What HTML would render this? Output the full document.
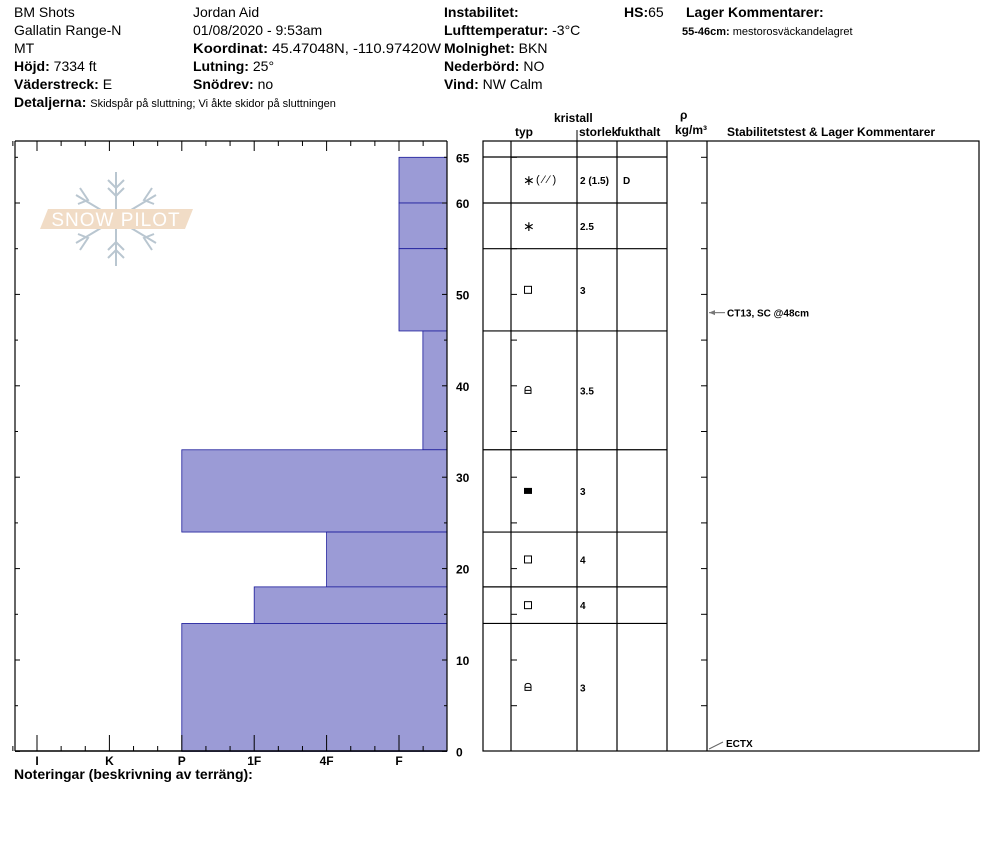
<!DOCTYPE html>
<html><head><meta charset="utf-8">
<style>
html,body{margin:0;padding:0;background:#fff;}
body{width:994px;height:840px;overflow:hidden;position:relative;font-family:"Liberation Sans",Arial,sans-serif;}
svg text{font-family:"Liberation Sans",Arial,sans-serif;}
</style></head>
<body>
<svg id="chart" width="994" height="840" viewBox="0 0 994 840" xmlns="http://www.w3.org/2000/svg">
<g id="header" font-size="14" fill="#000">
  <text x="14" y="17">BM Shots</text>
  <text x="14" y="35">Gallatin Range-N</text>
  <text x="14" y="53">MT</text>
  <text x="14" y="71"><tspan font-weight="bold">Höjd:</tspan> 7334 ft</text>
  <text x="14" y="89"><tspan font-weight="bold">Väderstreck:</tspan> E</text>
  <text x="14" y="107"><tspan font-weight="bold">Detaljerna:</tspan> <tspan font-size="11">Skidspår på sluttning;  Vi åkte skidor på sluttningen</tspan></text>
  <text x="193" y="17">Jordan Aid</text>
  <text x="193" y="35">01/08/2020 - 9:53am</text>
  <text x="193" y="53" textLength="248" lengthAdjust="spacingAndGlyphs"><tspan font-weight="bold">Koordinat:</tspan> 45.47048N, -110.97420W</text>
  <text x="193" y="71"><tspan font-weight="bold">Lutning:</tspan> 25°</text>
  <text x="193" y="89"><tspan font-weight="bold">Snödrev:</tspan> no</text>
  <text x="444" y="17" font-weight="bold">Instabilitet:</text>
  <text x="444" y="35"><tspan font-weight="bold">Lufttemperatur:</tspan> -3°C</text>
  <text x="444" y="53"><tspan font-weight="bold">Molnighet:</tspan> BKN</text>
  <text x="444" y="71"><tspan font-weight="bold">Nederbörd:</tspan> NO</text>
  <text x="444" y="89"><tspan font-weight="bold">Vind:</tspan>  NW Calm</text>
  <text x="624" y="17"><tspan font-weight="bold">HS:</tspan>65</text>
  <text x="686" y="17" font-weight="bold"> Lager Kommentarer:</text>
  <text x="682" y="35" font-size="11"><tspan font-weight="bold">55-46cm:</tspan> mestorosväckandelagret</text>
</g>
<g id="logo" stroke="#b9c6d0" stroke-width="2" fill="none">
  <line x1="116" y1="172" x2="116" y2="266"/>
  <line x1="76" y1="195" x2="156" y2="243"/>
  <line x1="76" y1="243" x2="156" y2="195"/>
  <polyline points="108,180 116,188 124,180"/>
  <polyline points="108,188 116,196 124,188"/>
  <polyline points="108,258 116,250 124,258"/>
  <polyline points="108,250 116,242 124,250"/>
  <polyline points="80,188 88,200 78,204"/>
  <polyline points="152,188 144,200 154,204"/>
  <polyline points="80,250 88,238 78,234"/>
  <polyline points="152,250 144,238 154,234"/>
  <polygon points="48,209 193,209 185,229 40,229" fill="#f1dcc6" stroke="none"/>
  <text x="116" y="226" text-anchor="middle" font-size="19" fill="#fff" stroke="none" letter-spacing="1">SNOW PILOT</text>
</g>
<g id="hardness-plot"></g>
<g id="table"></g>
<text x="14" y="779" font-size="14" font-weight="bold">Noteringar (beskrivning av terräng):</text>
</svg>
<script>
const layerTops = [65, 60, 55, 46, 33, 24, 18, 14];
const layerBottoms = [60, 55, 46, 33, 24, 18, 14, 0];
const layerHardness = [6, 6, 6, 6.33, 3, 5, 4, 3];
const hardnessLabels = ["I", "K", "P", "1F", "4F", "F"];
const depthTicks = [0, 10, 20, 30, 40, 50, 60, 65];
const grainTypes = ["PP(DF)", "PP", "FC", "DH", "MF", "FC", "FC", "DH"];
const grainSizes = ["2 (1.5)", "2.5", "3", "3.5", "3", "4", "4", "3"];
const moisture = ["D", "", "", "", "", "", "", ""];
const testLabels = ["CT13, SC @48cm", "ECTX"];
const testDepths = [48, 0];

const NS = "http://www.w3.org/2000/svg";
const yOf = d => 751.4 - d * 9.14;
const xOf = h => 37 + (h - 1) * 72.4;
const X0 = 15, X1 = 447, YT = 141, YB = 751;
function mk(parent, tag, attrs, txt) {
  const e = document.createElementNS(NS, tag);
  for (const k in attrs) e.setAttribute(k, attrs[k]);
  if (txt !== undefined) e.textContent = txt;
  parent.appendChild(e);
  return e;
}
const hp = document.getElementById('hardness-plot');
layerTops.forEach((t, i) => {
  const r = mk(hp, 'rect', {x: xOf(layerHardness[i]), y: yOf(t), width: X1 - xOf(layerHardness[i]), height: yOf(layerBottoms[i]) - yOf(t), fill: '#9b9bd6', stroke: '#1a1a9a', 'stroke-width': 0.8});
  
  
});
mk(hp, 'line', {x1: X0, y1: YT, x2: X0, y2: YB, stroke: '#000', 'stroke-width': 1.2});
mk(hp, 'line', {x1: X1, y1: YT, x2: X1, y2: YB, stroke: '#000', 'stroke-width': 1.2});
mk(hp, 'line', {x1: X0, y1: YB, x2: X1, y2: YB, stroke: '#000', 'stroke-width': 1.5});
mk(hp, 'line', {x1: X0, y1: YT, x2: X1, y2: YT, stroke: '#000', 'stroke-width': 1.2});
for (let h = 1 / 3; h <= 6.5; h += 1 / 3) {
  const x = xOf(h);
  const major = Math.abs(h - Math.round(h)) < 0.01;
  mk(hp, 'line', {x1: x, y1: YB, x2: x, y2: YB - (major ? 16 : 5), stroke: '#000'});
  mk(hp, 'line', {x1: x, y1: YT, x2: x, y2: YT + (major ? 10 : 5), stroke: '#000'});
}
hardnessLabels.forEach((l, i) => {
  const t = mk(hp, 'text', {x: xOf(i + 1), y: 765, 'font-size': 12, 'font-weight': 'bold', 'text-anchor': 'middle'}, l);
  
  
});
for (let d = 0; d <= 65; d += 5) {
  const y = yOf(d);
  const major = d % 10 === 0;
  mk(hp, 'line', {x1: X0, y1: y, x2: X0 + (major ? 5 : 3), y2: y, stroke: '#000'});
  mk(hp, 'line', {x1: X1, y1: y, x2: X1 - (major ? 5 : 3), y2: y, stroke: '#000'});
}
depthTicks.forEach(d => {
  const t = mk(hp, 'text', {x: 456, y: yOf(d) + 5, 'font-size': 12, 'font-weight': 'bold'}, String(d));
  
  
});

const tb = document.getElementById('table');
const cols = [483, 511, 577, 617, 667, 707, 979];
const TT = 141, TH = 157;
mk(tb, 'rect', {x: 483, y: TT, width: 979 - 483, height: YB - TT, fill: 'none', stroke: '#000', 'stroke-width': 1.2});
cols.slice(1, -1).forEach(x => mk(tb, 'line', {x1: x, y1: TT, x2: x, y2: YB, stroke: '#000', 'stroke-width': 1.2}));
mk(tb, 'line', {x1: 577, y1: 130, x2: 577, y2: TT, stroke: '#000'});
mk(tb, 'line', {x1: 483, y1: TH, x2: 667, y2: TH, stroke: '#000', 'stroke-width': 1.2});
layerBottoms.forEach(b => { if (b > 0) mk(tb, 'line', {x1: 483, y1: yOf(b), x2: 667, y2: yOf(b), stroke: '#000', 'stroke-width': 1.2}); });
for (let d = 5; d <= 65; d += 5) {
  mk(tb, 'line', {x1: 511, y1: yOf(d), x2: 517, y2: yOf(d), stroke: '#000'});
  mk(tb, 'line', {x1: 707, y1: yOf(d), x2: 701, y2: yOf(d), stroke: '#000'});
}
const hdr = [["typ", 515, 136], ["kristall", 554, 122], ["storlek", 579, 136], ["fukthalt", 617, 136], ["ρ", 680, 119], ["kg/m³", 675, 134], ["Stabilitetstest & Lager Kommentarer", 727, 136]];
hdr.forEach(h => mk(tb, 'text', {x: h[1], y: h[2], 'font-size': 12, 'font-weight': 'bold'}, h[0]));
function grainSym(type, cx, cy) {
  const g = mk(tb, 'g', {});
  
  
  if (type.startsWith('PP')) {
    mk(g, 'text', {x: cx - 5, y: cy + 5, 'font-size': 14}, '∗');
    if (type.includes('DF')) mk(g, 'text', {x: cx + 8, y: cy + 3, 'font-size': 11}, '( ⁄ ⁄ )');
  } else if (type === 'FC') {
    mk(g, 'rect', {x: cx - 3.5, y: cy - 3.5, width: 7, height: 7, fill: 'none', stroke: '#000', 'stroke-width': 1});
  } else if (type === 'MF') {
    mk(g, 'rect', {x: cx - 4, y: cy - 3, width: 8, height: 6, fill: '#000'});
  } else if (type === 'DH') {
    mk(g, 'path', {d: `M${cx-3},${cy+3} V${cy-1} Q${cx-3},${cy-4} ${cx},${cy-4} Q${cx+3},${cy-4} ${cx+3},${cy-1} V${cy+3} Z M${cx-3},${cy} H${cx+3}`, fill: 'none', stroke: '#000', 'stroke-width': 1});
  }
}
layerTops.forEach((t, i) => {
  const ymid = (yOf(t) + yOf(layerBottoms[i])) / 2;
  grainSym(grainTypes[i], 528, ymid);
  const s = mk(tb, 'text', {x: 580, y: ymid + 4, 'font-size': 10, 'font-weight': 'bold'}, grainSizes[i]);
  
  
  if (moisture[i]) mk(tb, 'text', {x: 623, y: ymid + 4, 'font-size': 10, 'font-weight': 'bold'}, moisture[i]);
});
testLabels.forEach((l, i) => {
  const y = yOf(testDepths[i]);
  if (testDepths[i] > 0) {
    mk(tb, 'line', {x1: 709, y1: y, x2: 725, y2: y, stroke: '#666'});
    mk(tb, 'polygon', {points: `709,${y} 715,${y-2.5} 715,${y+2.5}`, fill: '#777'});
    mk(tb, 'text', {x: 727, y: y + 4, 'font-size': 10, 'font-weight': 'bold'}, l);
  } else {
    mk(tb, 'line', {x1: 709, y1: 749, x2: 723, y2: 742, stroke: '#666'});
    mk(tb, 'text', {x: 726, y: 747, 'font-size': 10, 'font-weight': 'bold'}, l);
  }
});
</script>
</body></html>
